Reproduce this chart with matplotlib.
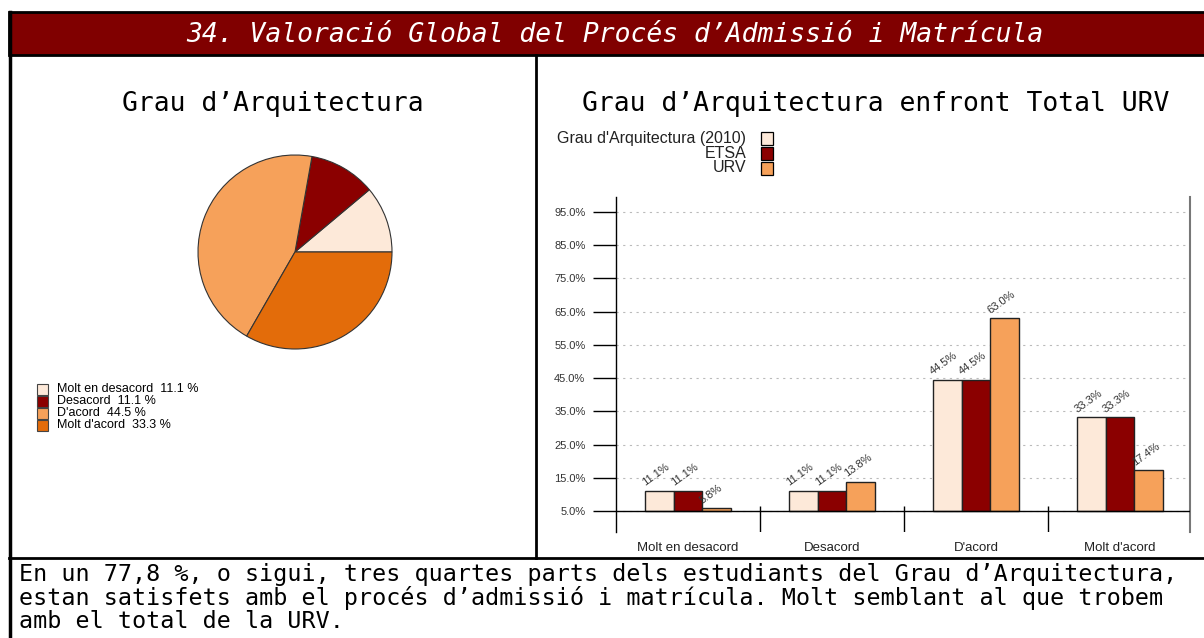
import matplotlib
matplotlib.use("Agg")
import matplotlib.pyplot as plt
from matplotlib.patches import Rectangle

# Data
categories = ["Molt en desacord", "Desacord", "D'acord", "Molt d'acord"]
pie_values = [11.1, 11.1, 44.5, 33.3]
pie_colors = ["#FDE9D9", "#8B0000", "#F6A15A", "#E36C0A"]

series_names = ["Grau d'Arquitectura (2010)", "ETSA", "URV"]
grau_values = [11.1, 11.1, 44.5, 33.3]
etsa_values = [11.1, 11.1, 44.5, 33.3]
urv_values = [5.8, 13.8, 63.0, 17.4]
series_colors = ["#FDE9D9", "#8B0000", "#F6A15A"]
yticks = [5, 15, 25, 35, 45, 55, 65, 75, 85, 95]

title = "34. Valoració Global del Procés d\u2019Admissió i Matrícula"
left_title = "Grau d\u2019Arquitectura"
right_title = "Grau d\u2019Arquitectura enfront Total URV"
comment_lines = [
    "En un 77,8 %, o sigui, tres quartes parts dels estudiants del Grau d\u2019Arquitectura,",
    "estan satisfets amb el procés d\u2019admissió i matrícula. Molt semblant al que trobem",
    "amb el total de la URV.",
]

W, H = 1204, 638
mono = "DejaVu Sans Mono"
sans = "Liberation Sans"


def px(x0, y0, x1, y1):
    """ Pixel box (top-left origin) to figure fraction rect. """
    return [x0 / W, 1 - y1 / H, (x1 - x0) / W, (y1 - y0) / H]


fig = plt.figure(figsize=(W / 100, H / 100), dpi=100)
fig.patch.set_facecolor("white")

# Overlay in pixel coordinates for frame, titles and legends
ov = fig.add_axes([0, 0, 1, 1])
ov.set_xlim(0, W)
ov.set_ylim(H, 0)
ov.axis("off")

ov.add_patch(Rectangle((9, 12), W, 43, facecolor="#800000", edgecolor="black", lw=2))
ov.text(615, 35, title, color="white", fontsize=19, family=mono, style="oblique",
        ha="center", va="center")
ov.plot([9.5, 9.5], [12, H], color="black", lw=2.5)
ov.plot([9, W], [558, 558], color="black", lw=2)
ov.plot([536, 536], [55, 558], color="black", lw=2)

ov.text(273, 104, left_title, fontsize=19, family=mono, ha="center", va="center")
ov.text(876, 104, right_title, fontsize=19, family=mono, ha="center", va="center")

# Comment below the charts
for i, line in enumerate(comment_lines):
    ov.text(19, 581 + 23.5 * i, line, fontsize=16.8, family=mono, ha="left", va="baseline")

# Pie legend
for i, (cat, val, col) in enumerate(zip(categories, pie_values, pie_colors)):
    yc = 389 + 12 * i
    ov.add_patch(Rectangle((37, yc - 5.5), 11, 11, facecolor=col, edgecolor="#444", lw=0.8))
    ov.text(57, yc, f"{cat}  {val:.1f} %", fontsize=9, family=sans, ha="left", va="center")

# Bar legend
for i, (name, col) in enumerate(zip(series_names, series_colors)):
    yc = 138 + 15 * i
    ov.add_patch(Rectangle((761, yc - 6.5), 12, 13, facecolor=col, edgecolor="black", lw=0.9))
    ov.text(746, yc, name, fontsize=11.5, family=sans, ha="right", va="center", color="#222")

# Pie chart
r = 97
axp = fig.add_axes(px(295 - r - 2, 252 - r - 2, 295 + r + 2, 252 + r + 2))
axp.pie(pie_values, colors=pie_colors, startangle=0, counterclock=True,
        wedgeprops=dict(edgecolor="#333333", linewidth=0.8))
lim = 1 + 2 / r
axp.set_xlim(-lim, lim)
axp.set_ylim(-lim, lim)
axp.set_aspect("equal")

# Bar chart
scale = (511 - 212) / 90.0
ybot = 5 - (532 - 511) / scale
ytop = 95 + (212 - 197) / scale
axb = fig.add_axes(px(616, 197, 1190, 532))
axb.set_facecolor("none")
axb.set_xlim(-0.5, (1190 - 688) / 144)
axb.set_ylim(ybot, ytop)

bw = 0.2
xs = list(range(len(categories)))
all_series = [grau_values, etsa_values, urv_values]
for k, (vals, col) in enumerate(zip(all_series, series_colors)):
    off = (k - 1) * bw
    axb.bar([x + off for x in xs], [v - 5 for v in vals], bottom=5, width=bw,
            color=col, edgecolor="#222222", linewidth=1.0, zorder=3)
    for x, v in zip(xs, vals):
        axb.text(x + off - bw / 2 + 0.01, v + 0.8, f"{v:.1f}%", rotation=36,
                 rotation_mode="anchor", ha="left", va="bottom", fontsize=8,
                 family=sans, color="#333333", zorder=4)

axb.axhline(5, color="black", lw=1, zorder=4)
axb.vlines([0.5, 1.5, 2.5], ybot, 5 + 5 / scale, color="black", lw=1)

axb.set_yticks(yticks)
axb.set_yticklabels([f"{v:.1f}%" for v in yticks], fontsize=8, family=sans, color="#333")
axb.tick_params(axis="y", direction="out", length=16.5, width=1, pad=5.5)
axb.set_xticks(xs)
axb.set_xticklabels(categories, fontsize=9.5, family=sans, color="#222")
axb.tick_params(axis="x", length=0, pad=7)
axb.yaxis.grid(True, linestyle=(0, (2, 4)), color="#bbbbbb", lw=0.8)
axb.set_axisbelow(True)
for s in ["top", "bottom"]:
    axb.spines[s].set_visible(False)
axb.spines["left"].set_linewidth(1)
axb.spines["right"].set_color("#777777")
axb.spines["right"].set_linewidth(1.5)

fig.savefig("out.png", dpi=100)
